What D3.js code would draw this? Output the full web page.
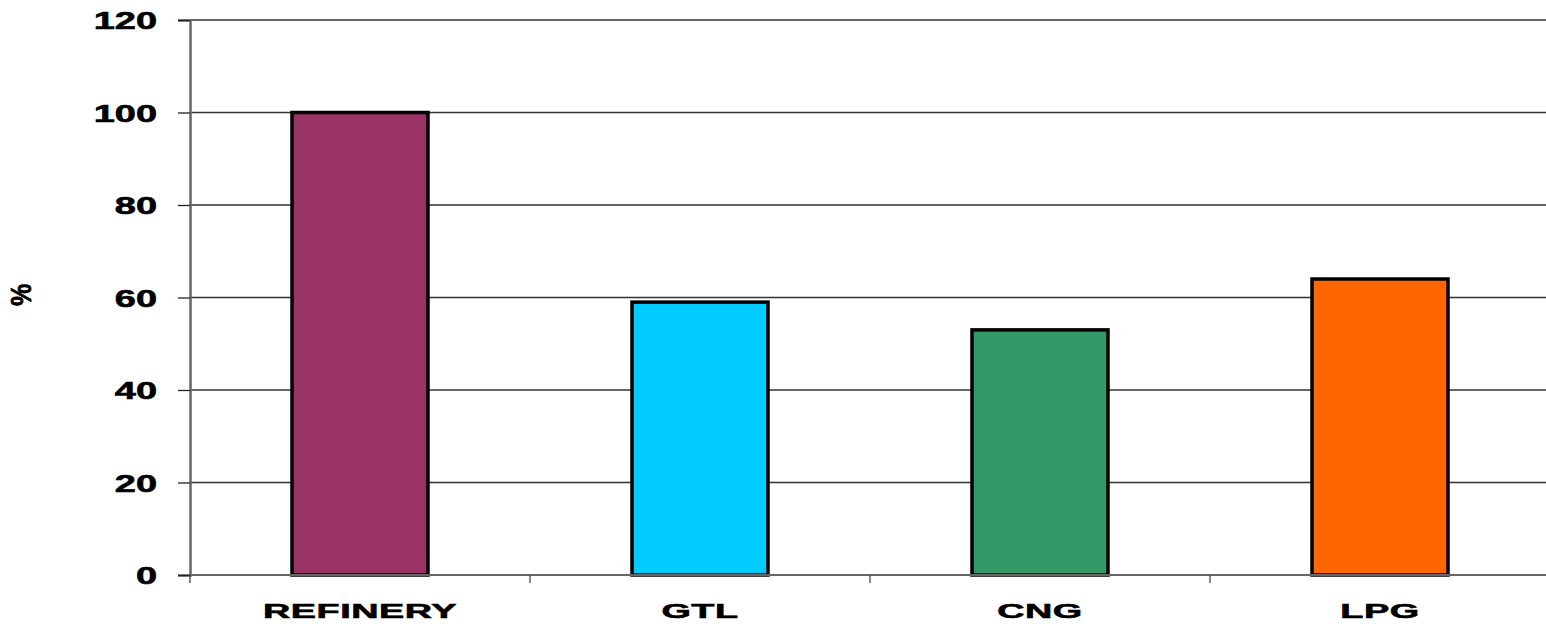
<!DOCTYPE html>
<html>
<head>
<meta charset="utf-8">
<script src="https://cdn.jsdelivr.net/npm/d3@7"></script>
<style>
  body { margin: 0; background: #fff; }
  text { font-family: "Liberation Sans", Arial, sans-serif; font-weight: bold; fill: #000; stroke: #000; stroke-width: 0.6px; }
</style>
</head>
<body>
<script>
// data
var categories = ["REFINERY", "GTL", "CNG", "LPG"];
var values = [100, 59, 53, 64];
var barColors = ["#993366", "#00CCFF", "#339966", "#FF6600"];
var yTicks = [0, 20, 40, 60, 80, 100, 120];

var width = 1546, height = 624;
var plotLeft = 190, plotRight = 1550, plotTop = 20, plotBottom = 575;

var svg = d3.select("body").append("svg")
  .attr("width", width)
  .attr("height", height);

var x = d3.scaleBand().domain(categories).range([plotLeft, plotRight])
  .paddingInner(0.6).paddingOuter(0.3);
var y = d3.scaleLinear().domain([0, 120]).range([plotBottom, plotTop]);

// gridlines
svg.append("g")
  .selectAll("line")
  .data(yTicks.filter(function (d) { return d > 0; }))
  .enter().append("line")
  .attr("x1", plotLeft).attr("x2", plotRight)
  .attr("y1", function (d) { return y(d); })
  .attr("y2", function (d) { return y(d); })
  .attr("stroke", "#333")
  .attr("stroke-width", 1.3);

// y axis
var yAxis = svg.append("g")
  .attr("transform", "translate(" + plotLeft + ",0)")
  .call(d3.axisLeft(y).tickValues(yTicks).tickSize(12).tickPadding(21));
yAxis.select(".domain").attr("stroke", "#666").attr("stroke-width", 2.5);
yAxis.selectAll(".tick line").attr("stroke", "#222").attr("stroke-width", 1.3);
yAxis.selectAll(".tick text")
  .attr("x", 0)
  .attr("dy", "0.36em")
  .attr("transform", "translate(-33,0) scale(1.55,1)")
  .style("font-size", "24.5px")
  .style("font-family", "'Liberation Sans', Arial, sans-serif");

// bars
svg.append("g")
  .selectAll("rect")
  .data(values)
  .enter().append("rect")
  .attr("x", function (d, i) { return x(categories[i]); })
  .attr("width", x.bandwidth())
  .attr("y", function (d) { return y(d); })
  .attr("height", function (d) { return y(0) - y(d); })
  .attr("fill", function (d, i) { return barColors[i]; })
  .attr("stroke", "#000")
  .attr("stroke-width", 3.5);

// x axis baseline + boundary ticks
svg.append("line")
  .attr("x1", plotLeft).attr("x2", plotRight)
  .attr("y1", plotBottom).attr("y2", plotBottom)
  .attr("stroke", "#666").attr("stroke-width", 2);

svg.append("g")
  .selectAll("line")
  .data(d3.range(categories.length + 1))
  .enter().append("line")
  .attr("x1", function (i) { return plotLeft + i * x.step(); })
  .attr("x2", function (i) { return plotLeft + i * x.step(); })
  .attr("y1", plotBottom).attr("y2", plotBottom + 8)
  .attr("stroke", "#444").attr("stroke-width", 1.3);

// category labels
var xAxis = svg.append("g")
  .attr("transform", "translate(0," + plotBottom + ")")
  .call(d3.axisBottom(x).tickSize(0));
xAxis.select(".domain").remove();
xAxis.selectAll(".tick text")
  .attr("y", 0).attr("dy", 0)
  .attr("transform", "translate(0,43) scale(1.8,1)")
  .style("font-size", "21px")
  .style("letter-spacing", "0.3px")
  .style("font-family", "'Liberation Sans', Arial, sans-serif");

// y title
svg.append("text")
  .attr("transform", "translate(31,295) rotate(-90) scale(1,1.2)")
  .attr("text-anchor", "middle")
  .style("font-size", "25px")
  .text("%");
</script>
</body>
</html>
